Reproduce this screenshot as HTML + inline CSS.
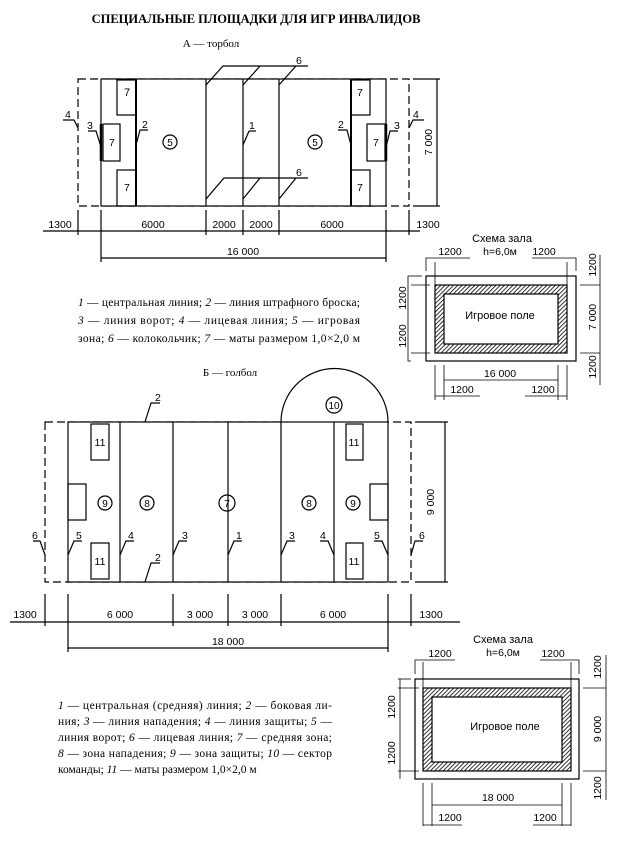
<!DOCTYPE html>
<html><head><meta charset="utf-8"><style>
html,body{margin:0;padding:0;background:#fff;}
svg{display:block}
.s{font-family:"Liberation Serif",serif;}
.a{font-family:"Liberation Sans",sans-serif;font-size:10.5px;}
</style></head><body>
<svg width="618" height="854" viewBox="0 0 618 854" xmlns="http://www.w3.org/2000/svg" stroke="#000" fill="none" stroke-width="1.2">
<defs>
<pattern id="h" width="3" height="3" patternUnits="userSpaceOnUse" patternTransform="rotate(45)">
<rect width="3" height="3" fill="#fff" stroke="none"/><line x1="0" y1="0" x2="0" y2="3" stroke="#000" stroke-width="1.6"/>
</pattern>
</defs>
<g fill="#000" stroke="none">
<text class="s" x="256" y="23" font-size="12.5" font-weight="bold" text-anchor="middle">СПЕЦИАЛЬНЫЕ ПЛОЩАДКИ ДЛЯ ИГР ИНВАЛИДОВ</text>
<text class="s" x="211" y="47" font-size="11" text-anchor="middle">А — торбол</text>
<text class="s" x="230" y="376" font-size="11" text-anchor="middle">Б — голбол</text>
</g>

<!-- FIELD A -->
<rect x="78" y="79" width="331" height="127" stroke-dasharray="8,4"/>
<rect x="101" y="79" width="285" height="127" fill="#fff"/>
<g>
<line x1="206" y1="79" x2="206" y2="206"/><line x1="243" y1="79" x2="243" y2="206"/><line x1="279" y1="79" x2="279" y2="206"/>
</g>
<line x1="136" y1="79" x2="136" y2="206" stroke-width="2"/>
<line x1="351" y1="79" x2="351" y2="206" stroke-width="2"/>
<line x1="101" y1="124" x2="101" y2="161" stroke-width="2.5"/>
<line x1="386" y1="124" x2="386" y2="161" stroke-width="2.5"/>
<rect x="117" y="80" width="19" height="35"/><rect x="103" y="124" width="17" height="37"/><rect x="117" y="170" width="19" height="36"/>
<rect x="351" y="80" width="19" height="35"/><rect x="367" y="124" width="18" height="37"/><rect x="351" y="170" width="19" height="36"/>
<circle cx="170" cy="142" r="7"/><circle cx="315" cy="142" r="7"/>
<polyline points="206,85 223,66 308,66"/><line x1="243" y1="85" x2="260" y2="66"/><line x1="279" y1="85" x2="296" y2="66"/>
<polyline points="206,199 224,178 308,178"/><line x1="243" y1="199" x2="260" y2="178"/><line x1="279" y1="199" x2="296" y2="178"/>
<polyline points="78,128 74,120 63,120"/><polyline points="101,147 96,131 88,131"/><polyline points="136,145 140,130 148,130"/>
<polyline points="351,145 347,130 338,130"/><polyline points="386,147 390,131 398,131"/><polyline points="409,128 413,120 424,120"/>
<line x1="243" y1="145" x2="249" y2="131"/><line x1="249" y1="131" x2="256" y2="131"/>
<g fill="#000" stroke="none" class="a">
<text x="124" y="96" font-size="11">7</text><text x="109" y="146">7</text><text x="124" y="191">7</text>
<text x="357" y="96">7</text><text x="373" y="146">7</text><text x="357" y="191">7</text>
<text x="170" y="146" text-anchor="middle" font-size="10">5</text><text x="315" y="146" text-anchor="middle" font-size="10">5</text>
<text x="296" y="64">6</text><text x="296" y="176">6</text>
<text x="65" y="118">4</text><text x="87" y="129">3</text><text x="142" y="128">2</text><text x="249" y="129">1</text>
<text x="338" y="128">2</text><text x="394" y="129">3</text><text x="413" y="118">4</text>
</g>
<!-- dims A -->
<line x1="437" y1="79" x2="437" y2="206"/><line x1="413" y1="79" x2="440" y2="79"/><line x1="413" y1="206" x2="440" y2="206"/>
<text class="a" transform="translate(432,142) rotate(-90)" text-anchor="middle" fill="#000" stroke="none">7 000</text>
<line x1="43" y1="231" x2="420" y2="231"/>
<g><line x1="78" y1="210" x2="78" y2="235"/><line x1="101" y1="210" x2="101" y2="262"/><line x1="206" y1="210" x2="206" y2="235"/><line x1="243" y1="210" x2="243" y2="235"/><line x1="279" y1="210" x2="279" y2="235"/><line x1="386" y1="210" x2="386" y2="262"/><line x1="409" y1="210" x2="409" y2="235"/></g>
<line x1="101" y1="258" x2="386" y2="258"/>
<g fill="#000" stroke="none" class="a">
<text x="60" y="228" text-anchor="middle">1300</text><text x="153" y="228" text-anchor="middle">6000</text><text x="224" y="228" text-anchor="middle">2000</text><text x="261" y="228" text-anchor="middle">2000</text><text x="332" y="228" text-anchor="middle">6000</text><text x="428" y="228" text-anchor="middle">1300</text>
<text x="243" y="255" text-anchor="middle">16 000</text>
</g>
<!-- legend A -->
<g class="s" font-size="11.5" fill="#000" stroke="none">
<text x="78" y="306" textLength="282" lengthAdjust="spacing"><tspan font-style="italic">1</tspan> — центральная линия; <tspan font-style="italic">2</tspan> — линия штрафного броска;</text>
<text x="78" y="324" textLength="282" lengthAdjust="spacing"><tspan font-style="italic">3</tspan> — линия ворот; <tspan font-style="italic">4</tspan> — лицевая линия; <tspan font-style="italic">5</tspan> — игровая</text>
<text x="78" y="342" textLength="282" lengthAdjust="spacing">зона; <tspan font-style="italic">6</tspan> — колокольчик; <tspan font-style="italic">7</tspan> — маты размером 1,0×2,0 м</text>
</g>

<!-- SCHEMA 1 -->
<rect x="426" y="276" width="150" height="85"/>
<rect x="435" y="285" width="132" height="68" fill="url(#h)" stroke="#000"/>
<rect x="444" y="294" width="114" height="50" fill="#fff"/>
<g class="a" fill="#000" stroke="none">
<text x="502" y="242" text-anchor="middle" font-size="11">Схема зала</text>
<text x="500" y="255" text-anchor="middle">h=6,0м</text>
<text x="450" y="255" text-anchor="middle">1200</text><text x="544" y="255" text-anchor="middle">1200</text>
<text x="500" y="319" text-anchor="middle" font-size="11">Игровое поле</text>
<text x="500" y="377" text-anchor="middle">16 000</text>
<text x="462" y="393" text-anchor="middle">1200</text><text x="543" y="393" text-anchor="middle">1200</text>
<text transform="translate(406,298) rotate(-90)" text-anchor="middle">1200</text>
<text transform="translate(406,336) rotate(-90)" text-anchor="middle">1200</text>
<text transform="translate(596,265) rotate(-90)" text-anchor="middle">1200</text>
<text transform="translate(596,317) rotate(-90)" text-anchor="middle">7 000</text>
<text transform="translate(596,367) rotate(-90)" text-anchor="middle">1200</text>
</g>
<g stroke-width="0.8">
<polyline points="426,271 426,258 470,258"/><line x1="435" y1="262" x2="435" y2="285"/>
<polyline points="576,271 576,258 532,258"/><line x1="567" y1="262" x2="567" y2="285"/>
<polyline points="411,276 408,276 408,361 411,361"/><line x1="411" y1="285" x2="430" y2="285"/><line x1="411" y1="353" x2="430" y2="353"/><line x1="411" y1="276" x2="422" y2="276"/>
<line x1="580" y1="285" x2="600" y2="285"/><line x1="580" y1="353" x2="600" y2="353"/><line x1="600" y1="255" x2="600" y2="385"/>
<line x1="444" y1="365" x2="444" y2="400"/><line x1="558" y1="365" x2="558" y2="400"/><line x1="435" y1="365" x2="435" y2="400"/><line x1="567" y1="365" x2="567" y2="400"/>
<line x1="444" y1="380" x2="558" y2="380"/><line x1="435" y1="396" x2="480" y2="396"/><line x1="525" y1="396" x2="567" y2="396"/>
</g>

<!-- FIELD B -->
<rect x="45" y="422" width="366" height="160" stroke-dasharray="8,4"/>
<path d="M281,422 A53.5,53.5 0 0 1 388,422" fill="#fff"/>
<rect x="68" y="422" width="320" height="160" fill="#fff"/>
<line x1="120" y1="422" x2="120" y2="582"/><line x1="173" y1="422" x2="173" y2="582"/><line x1="228" y1="422" x2="228" y2="582"/><line x1="281" y1="422" x2="281" y2="582"/><line x1="334" y1="422" x2="334" y2="582"/>
<rect x="91" y="424" width="18" height="36"/><rect x="91" y="543" width="18" height="36"/>
<rect x="346" y="424" width="17" height="36"/><rect x="346" y="543" width="17" height="36"/>
<rect x="68" y="484" width="18" height="36"/><rect x="370" y="484" width="18" height="36"/>
<circle cx="334" cy="405" r="8"/>
<circle cx="105" cy="503" r="7"/><circle cx="147" cy="503" r="7"/><circle cx="227" cy="503" r="8"/><circle cx="309" cy="503" r="7"/><circle cx="353" cy="503" r="7"/>
<polyline points="145,422 151,403 160,403"/><polyline points="145,582 151,563 160,563"/>
<polyline points="45,555 40,541 33,541"/><polyline points="68,555 74,541 82,541"/><polyline points="120,555 126,541 134,541"/><polyline points="173,555 179,541 187,541"/><polyline points="228,555 234,541 242,541"/>
<polyline points="281,555 287,541 295,541"/><polyline points="334,555 328,541 320,541"/><polyline points="388,555 382,541 374,541"/><polyline points="411,555 415,541 423,541"/>
<g class="a" fill="#000" stroke="none">
<text x="155" y="401">2</text><text x="155" y="561">2</text>
<text x="334" y="409" text-anchor="middle" font-size="10">10</text>
<text x="100" y="446" text-anchor="middle">11</text><text x="100" y="565" text-anchor="middle">11</text><text x="354" y="446" text-anchor="middle">11</text><text x="354" y="565" text-anchor="middle">11</text>
<text x="105" y="507" text-anchor="middle" font-size="10">9</text><text x="147" y="507" text-anchor="middle" font-size="10">8</text><text x="227" y="507" text-anchor="middle" font-size="10">7</text><text x="309" y="507" text-anchor="middle" font-size="10">8</text><text x="353" y="507" text-anchor="middle" font-size="10">9</text>
<text x="32" y="539">6</text><text x="76" y="539">5</text><text x="128" y="539">4</text><text x="182" y="539">3</text><text x="236" y="539">1</text><text x="289" y="539">3</text><text x="320" y="539">4</text><text x="374" y="539">5</text><text x="419" y="539">6</text>
</g>
<line x1="445" y1="422" x2="445" y2="582"/><line x1="415" y1="422" x2="448" y2="422"/><line x1="415" y1="582" x2="448" y2="582"/>
<text class="a" transform="translate(434,502) rotate(-90)" text-anchor="middle" fill="#000" stroke="none">9 000</text>
<line x1="10" y1="622" x2="460" y2="622"/>
<line x1="45" y1="594" x2="45" y2="626"/><line x1="68" y1="594" x2="68" y2="652"/><line x1="173" y1="594" x2="173" y2="626"/><line x1="228" y1="594" x2="228" y2="626"/><line x1="281" y1="594" x2="281" y2="626"/><line x1="388" y1="594" x2="388" y2="652"/><line x1="411" y1="594" x2="411" y2="626"/>
<line x1="68" y1="648" x2="388" y2="648"/>
<g class="a" fill="#000" stroke="none">
<text x="25" y="618" text-anchor="middle">1300</text><text x="120" y="618" text-anchor="middle">6 000</text><text x="200" y="618" text-anchor="middle">3 000</text><text x="255" y="618" text-anchor="middle">3 000</text><text x="333" y="618" text-anchor="middle">6 000</text><text x="431" y="618" text-anchor="middle">1300</text>
<text x="228" y="645" text-anchor="middle">18 000</text>
</g>
<!-- legend B -->
<g class="s" font-size="11.5" fill="#000" stroke="none">
<text x="58" y="709" textLength="274" lengthAdjust="spacing"><tspan font-style="italic">1</tspan> — центральная (средняя) линия; <tspan font-style="italic">2</tspan> — боковая ли-</text>
<text x="58" y="725" textLength="274" lengthAdjust="spacing">ния; <tspan font-style="italic">3</tspan> — линия нападения; <tspan font-style="italic">4</tspan> — линия защиты; <tspan font-style="italic">5</tspan> —</text>
<text x="58" y="741" textLength="274" lengthAdjust="spacing">линия ворот; <tspan font-style="italic">6</tspan> — лицевая линия; <tspan font-style="italic">7</tspan> — средняя зона;</text>
<text x="58" y="757" textLength="274" lengthAdjust="spacing"><tspan font-style="italic">8</tspan> — зона нападения; <tspan font-style="italic">9</tspan> — зона защиты; <tspan font-style="italic">10</tspan> — сектор</text>
<text x="58" y="773">команды; <tspan font-style="italic">11</tspan> — маты размером 1,0×2,0 м</text>
</g>

<!-- SCHEMA 2 -->
<rect x="415" y="679" width="164" height="100"/>
<rect x="423" y="688" width="148" height="83" fill="url(#h)" stroke="#000"/>
<rect x="432" y="697" width="130" height="65" fill="#fff"/>
<g class="a" fill="#000" stroke="none">
<text x="503" y="643" text-anchor="middle" font-size="11">Схема зала</text>
<text x="503" y="656" text-anchor="middle">h=6,0м</text>
<text x="440" y="657" text-anchor="middle">1200</text><text x="553" y="657" text-anchor="middle">1200</text>
<text x="505" y="730" text-anchor="middle" font-size="11">Игровое поле</text>
<text x="498" y="801" text-anchor="middle">18 000</text>
<text x="450" y="821" text-anchor="middle">1200</text><text x="545" y="821" text-anchor="middle">1200</text>
<text transform="translate(395,707) rotate(-90)" text-anchor="middle">1200</text>
<text transform="translate(395,753) rotate(-90)" text-anchor="middle">1200</text>
<text transform="translate(601,667) rotate(-90)" text-anchor="middle">1200</text>
<text transform="translate(601,729) rotate(-90)" text-anchor="middle">9 000</text>
<text transform="translate(601,788) rotate(-90)" text-anchor="middle">1200</text>
</g>
<g stroke-width="0.8">
<polyline points="415,674 415,660 455,660"/><line x1="423" y1="662" x2="423" y2="688"/>
<polyline points="579,674 579,660 540,660"/><line x1="571" y1="662" x2="571" y2="688"/>
<line x1="398" y1="679" x2="411" y2="679"/><line x1="398" y1="688" x2="419" y2="688"/><line x1="398" y1="771" x2="419" y2="771"/><line x1="400" y1="679" x2="400" y2="779"/>
<line x1="583" y1="688" x2="606" y2="688"/><line x1="583" y1="771" x2="606" y2="771"/><line x1="606" y1="655" x2="606" y2="800"/>
<line x1="432" y1="783" x2="432" y2="826"/><line x1="562" y1="783" x2="562" y2="826"/><line x1="423" y1="783" x2="423" y2="826"/><line x1="571" y1="783" x2="571" y2="826"/>
<line x1="432" y1="805" x2="562" y2="805"/><line x1="423" y1="825" x2="462" y2="825"/><line x1="533" y1="825" x2="571" y2="825"/>
</g>
</svg>
</body></html>
